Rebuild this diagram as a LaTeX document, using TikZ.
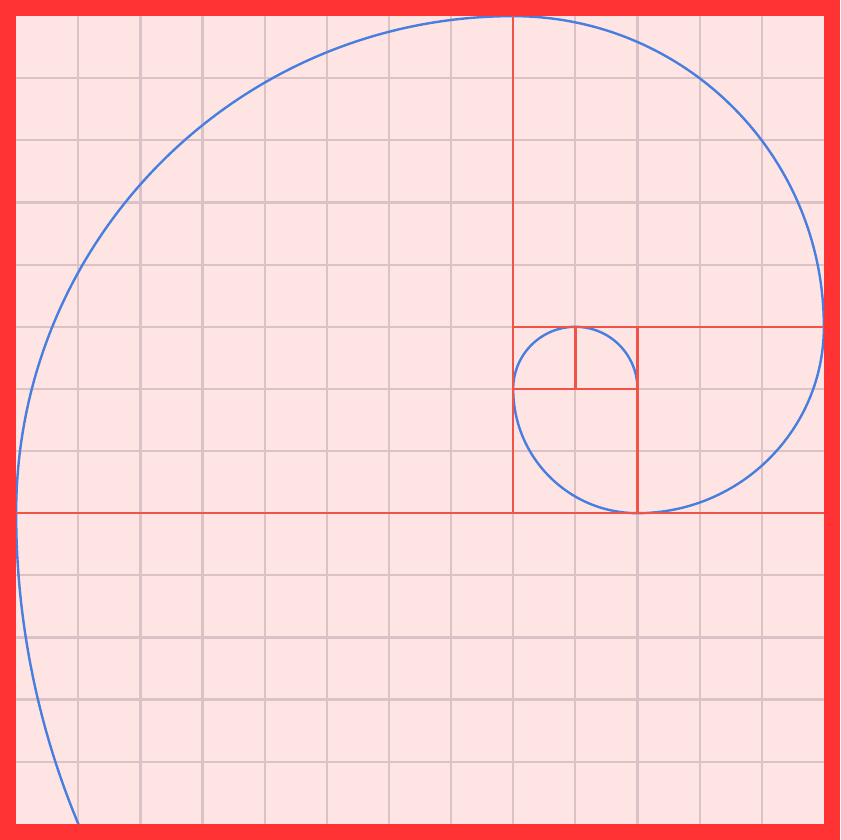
\documentclass[tikz,border=0pt]{standalone}
\usepackage{tikz}
\definecolor{fbframe}{RGB}{255,51,51}
\definecolor{fbpaper}{RGB}{255,228,228}
\definecolor{fbgrid}{RGB}{218,194,198}
\definecolor{fbsq}{RGB}{240,84,72}
\definecolor{fbarc}{RGB}{72,126,222}
\tikzset{
  gridln/.style={draw=fbgrid, line width=1pt},
  sqln/.style={draw=fbsq, line width=1.1pt},
  spiral/.style={draw=fbarc, line width=1.1pt, line join=round}
}

\begin{document}
\begin{tikzpicture}[x=1cm,y=1cm]
  % frame and paper
  \fill[fbframe] (-0.26,-0.26) rectangle (13.26,13.26);
  \fill[fbpaper] (0,0) rectangle (13,13);
  \foreach \k in {1,...,12} {
    \draw[gridln] (\k,0) -- (\k,13);
    \draw[gridln] (0,\k) -- (13,\k);
  }
  % golden spiral
  \begin{scope}
    \clip (0,0) rectangle (13,13);
    \draw[spiral] (10,7) arc[start angle=0, end angle=180, radius=1]
      arc[start angle=180, end angle=270, radius=2]
      arc[start angle=270, end angle=360, radius=3]
      arc[start angle=0, end angle=90, radius=5]
      arc[start angle=90, end angle=180, radius=8]
      arc[start angle=180, end angle=205, radius=13];
  \end{scope}
  % fibonacci squares
  \draw[sqln] (0,5) -- (13,5);
  \draw[sqln] (8,5) -- (8,13);
  \draw[sqln] (8,8) -- (13,8);
  \draw[sqln] (10,5) -- (10,8);
  \draw[sqln] (8,7) -- (10,7);
  \draw[sqln] (9,7) -- (9,8);
\end{tikzpicture}
\end{document}
